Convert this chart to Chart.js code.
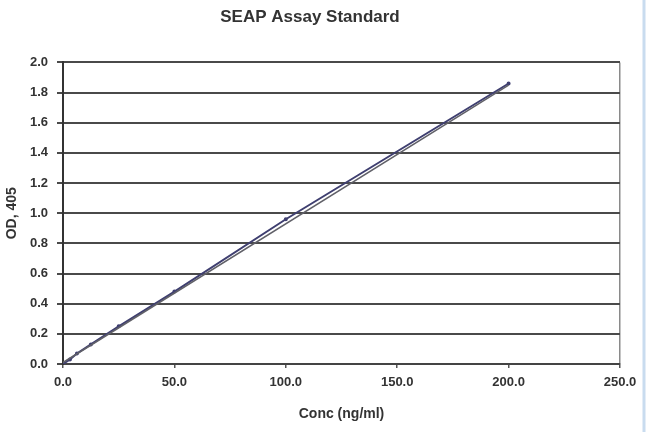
<!DOCTYPE html>
<html>
<head>
<meta charset="utf-8">
<script src="https://cdn.jsdelivr.net/npm/chart.js@4"></script>
<style>
  html, body { margin: 0; padding: 0; background: #fff; }
  #wrap { width: 650px; height: 432px; }
</style>
</head>
<body>
<div id="wrap"><canvas id="seapChart"></canvas></div>
<script>
  // standard curve data (conc in ng/ml, OD 405)
  const concValues = [0, 3.125, 6.25, 12.5, 25, 50, 100, 200];
  const odValues = [0.0, 0.03, 0.07, 0.13, 0.25, 0.48, 0.96, 1.86];
  // linear trendline end points
  const trendConc = [0, 200];
  const trendOd = [0.01, 1.85];
  const xTicks = [0, 50, 100, 150, 200, 250];

  const fam = "'Liberation Sans', Arial, sans-serif";
  const tickFont = { family: fam, size: 13, weight: 'bold' };
  const axisTitleFont = { family: fam, size: 14, weight: 'bold' };

  // thin blue frame line at the right edge of the picture
  const edgeLine = {
    id: 'edgeLine',
    afterDraw(chart) {
      const ctx = chart.ctx;
      ctx.save();
      ctx.strokeStyle = '#c9dcef';
      ctx.lineWidth = 3;
      ctx.beginPath();
      ctx.moveTo(644, 0);
      ctx.lineTo(644, chart.height);
      ctx.stroke();
      ctx.restore();
    }
  };

  new Chart(document.getElementById('seapChart'), {
    type: 'scatter',
    data: {
      datasets: [
        {
          label: 'Trend',
          data: trendConc.map((x, i) => ({ x: x, y: trendOd[i] })),
          showLine: true,
          borderColor: '#606068',
          borderWidth: 1.5,
          pointRadius: 0
        },
        {
          label: 'Standard',
          data: concValues.map((x, i) => ({ x: x, y: odValues[i] })),
          showLine: true,
          borderColor: '#3f3f70',
          backgroundColor: '#3f3f70',
          borderWidth: 2,
          pointRadius: 1
        }
      ]
    },
    options: {
      responsive: true,
      maintainAspectRatio: false,
      animation: false,
      layout: { padding: { left: 0, right: 30, top: 0, bottom: 0 } },
      plugins: {
        legend: { display: false },
        tooltip: { enabled: false },
        title: {
          display: true,
          text: 'SEAP Assay Standard',
          color: '#333',
          font: { family: fam, size: 17, weight: 'bold' },
          padding: { top: 7, bottom: 35 }
        }
      },
      scales: {
        x: {
          type: 'linear',
          min: 0,
          max: 250,
          afterBuildTicks: s => { s.ticks = xTicks.map(v => ({ value: v })); },
          afterFit: s => { s.height = 68; },
          border: { color: '#444', width: 2 },
          grid: {
            color: c => (c.tick && c.tick.value === 250) ? '#8a8a8a' : 'rgba(0,0,0,0)',
            tickColor: '#555',
            lineWidth: 1.5,
            tickLength: 4
          },
          ticks: {
            color: '#333',
            font: tickFont,
            padding: 7,
            maxRotation: 0,
            callback: v => v.toFixed(1)
          },
          title: {
            display: true,
            text: 'Conc (ng/ml)',
            color: '#333',
            font: axisTitleFont,
            padding: { top: 0, bottom: 9 }
          }
        },
        y: {
          min: 0,
          max: 2.0,
          afterFit: s => { s.width = 63; },
          border: { color: '#333', width: 2 },
          grid: {
            color: '#4a4a4a',
            lineWidth: 2,
            tickLength: 6
          },
          ticks: {
            stepSize: 0.2,
            color: '#333',
            font: tickFont,
            padding: 9,
            callback: v => v.toFixed(1)
          },
          title: {
            display: true,
            text: 'OD, 405',
            color: '#333',
            font: axisTitleFont,
            padding: { top: 4, bottom: 0 }
          }
        }
      }
    },
    plugins: [edgeLine]
  });
</script>
</body>
</html>
